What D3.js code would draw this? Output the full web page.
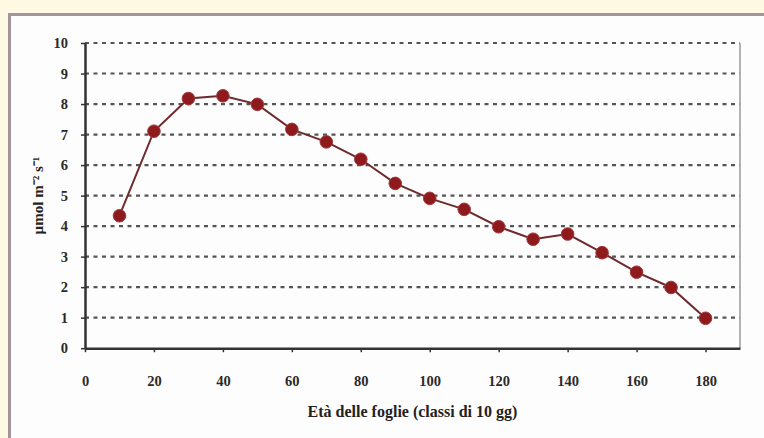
<!DOCTYPE html>
<html>
<head>
<meta charset="utf-8">
<script src="https://cdn.jsdelivr.net/npm/d3@7"></script>
<style>
html,body{margin:0;padding:0;background:#fdf9e2;}
svg{display:block;}
</style>
</head>
<body>
<svg id="chart" width="764" height="438"></svg>
<script>
const ages = [10,20,30,40,50,60,70,80,90,100,110,120,130,140,150,160,170,180];
const values = [4.34,7.11,8.18,8.27,7.99,7.17,6.76,6.19,5.40,4.91,4.55,3.98,3.57,3.74,3.13,2.49,1.99,0.98];
const xTicks = [0,20,40,60,80,100,120,140,160,180];
const yTicks = [0,1,2,3,4,5,6,7,8,9,10];
const xTitle = "Età delle foglie (classi di 10 gg)";
const yTitle = "µmol m⁻² s⁻¹";

const svg = d3.select("#chart");
const W = 764, H = 438;
const m = {left:85, right:24, top:43, bottom:90};

// outer panel
svg.append("rect").attr("x",0).attr("y",0).attr("width",W).attr("height",H).attr("fill","#fdf9e2");
svg.append("rect").attr("x",9.5).attr("y",14.5).attr("width",W).attr("height",H)
  .attr("fill","#fefdfd").attr("stroke","#a3939a").attr("stroke-width",3);

const x = d3.scaleLinear().domain([0,190]).range([m.left, W - m.right]);
const y = d3.scaleLinear().domain([0,10]).range([H - m.bottom + 0.2, m.top]);

// grid lines
svg.append("g").selectAll("line").data(yTicks.filter(d => d > 0)).join("line")
  .attr("x1", x(0)).attr("x2", x(190))
  .attr("y1", d => y(d)).attr("y2", d => y(d))
  .attr("stroke","#555").attr("stroke-width",2.2).attr("stroke-dasharray","4,4.5");

// right border
svg.append("line").attr("x1", x(190)).attr("x2", x(190)).attr("y1", y(10)).attr("y2", y(0))
  .attr("stroke","#9a9a9a").attr("stroke-width",1.5);

// axes
const font = "'Liberation Serif','Times New Roman',serif";
const xAxis = svg.append("g").attr("transform",`translate(0,${y(0)})`)
  .call(d3.axisBottom(x).tickValues(xTicks).tickSize(4).tickPadding(24).tickSizeOuter(0));
const yAxis = svg.append("g").attr("transform",`translate(${x(0)},0)`)
  .call(d3.axisLeft(y).tickValues(yTicks).tickSize(4).tickPadding(13).tickSizeOuter(0));
[xAxis, yAxis].forEach(g => {
  g.select(".domain").attr("stroke","#333").attr("stroke-width",2.5);
  g.selectAll(".tick line").attr("stroke","#333").attr("stroke-width",1.5);
  g.selectAll(".tick text").attr("font-family",font).attr("font-size",14.5)
    .attr("font-weight","bold").attr("fill","#2a2a2a");
});

// line & points
const line = d3.line().x((d,i) => x(ages[i])).y(d => y(d));
svg.append("path").datum(values).attr("d", line)
  .attr("fill","none").attr("stroke","#6e2a2c").attr("stroke-width",2);
svg.append("g").selectAll("circle").data(values).join("circle")
  .attr("cx",(d,i) => x(ages[i])).attr("cy", d => y(d)).attr("r",6.3)
  .attr("fill","#8e1a1e").attr("stroke","#a33a3c").attr("stroke-width",1);

// titles
svg.append("text").attr("x", (x(0)+x(190))/2).attr("y", 417)
  .attr("text-anchor","middle").attr("font-family",font).attr("font-size",16)
  .attr("font-weight","bold").attr("fill","#222").text(xTitle);
svg.append("text").attr("transform",`translate(43,${(y(0)+y(10))/2}) rotate(-90)`)
  .attr("text-anchor","middle").attr("font-family",font).attr("font-size",15)
  .attr("font-weight","bold").attr("fill","#222").text(yTitle);
</script>
</body>
</html>
